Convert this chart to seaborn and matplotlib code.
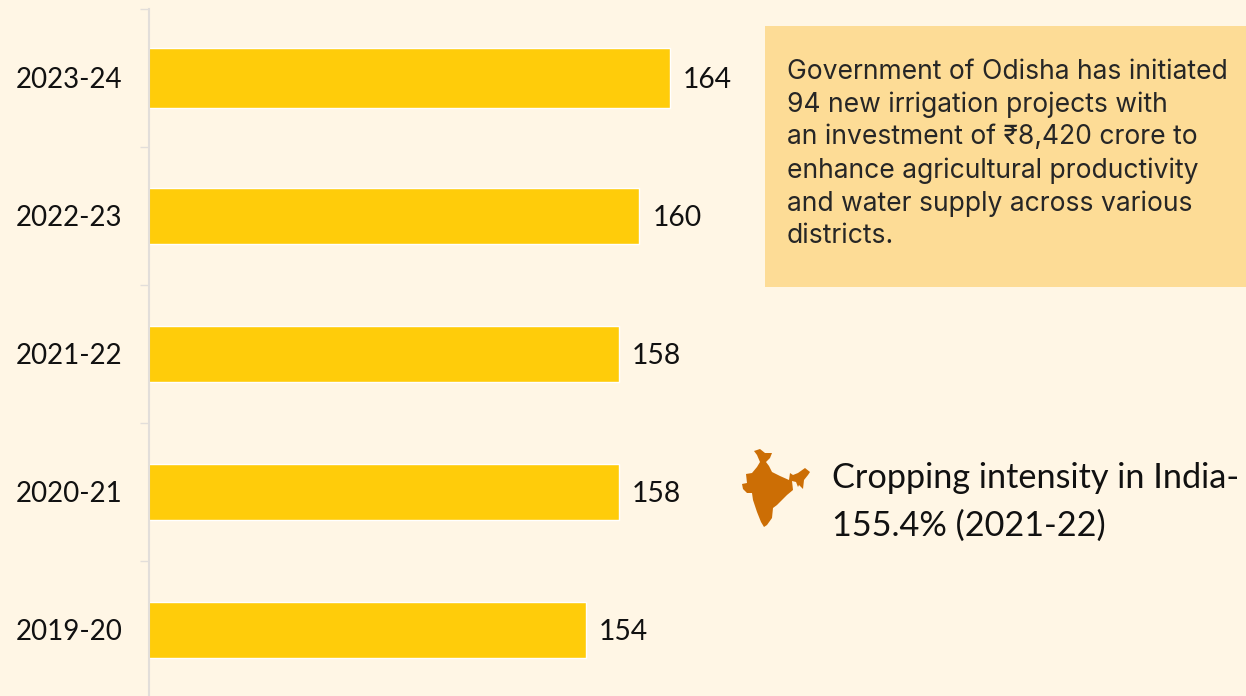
# cropping intensity chart, Odisha
import numpy as np
import pandas as pd
import matplotlib.pyplot as plt
from matplotlib.patches import Polygon, Rectangle
import seaborn as sns

years = ["2023-24", "2022-23", "2021-22", "2020-21", "2019-20"]
intensity = [164, 160.4, 157.9, 157.9, 154]

note = ("Government of Odisha has initiated\n94 new irrigation projects with\n"
        "an investment of ₹8,420 crore to\nenhance agricultural productivity\n"
        "and water supply across various\ndistricts.")
india_note = "Cropping intensity in India-\n155.4% (2021-22)"

# rough outline of the map icon, in pixels of the picture
india_x = [754, 760, 765, 772, 770, 766, 769, 772, 780, 789, 790, 793, 798, 805, 810, 808, 804, 803,
           799, 798, 796, 792, 793, 787, 777, 773, 772, 767, 764, 761, 757, 753, 752, 747, 743, 742,
           747, 746, 752, 757, 760, 757]
india_y = [451, 449, 453, 453, 458, 462, 466, 472, 476, 480, 473, 475, 473, 468, 472, 475, 480, 489,
           485, 487, 482, 481, 490, 495, 505, 508, 518, 525, 527, 522, 512, 500, 493, 493, 489, 484,
           483, 474, 473, 467, 462, 455]

BG = "#FFF6E5"
W, H = 1246, 696

sns.set_style("white")
plt.rcParams["font.family"] = ["Lato", "DejaVu Sans"]

fig = plt.figure(figsize=(W / 100, H / 100), dpi=100, facecolor=BG)
ax = fig.add_axes([149 / W, (H - 699) / H, (W - 149) / W, 690 / H])
ax.patch.set_alpha(0)

df = pd.DataFrame({"year": years, "intensity": intensity})
sns.barplot(data=df, y="year", x="intensity", orient="h", color="#FFCC0A", saturation=1, width=0.405, ax=ax)
ax.patches[0].set_y(-0.22)
ax.patches[0].set_height(0.44)

ax.set_xlim(101.7, 233)
ax.set_xlabel("")
ax.set_ylabel("")
ax.set_xticks([])

sns.despine(ax=ax, left=False, right=True, top=True, bottom=True)
ax.spines["left"].set_color("#E2DEDA")
ax.spines["left"].set_linewidth(1.5)
ax.spines["left"].set_clip_on(False)

# ticks sit between the categories
ax.set_yticks(np.arange(-0.5, 5), minor=True)
ax.tick_params(axis="y", which="minor", length=6.5, width=1, color="#E2DEDA", left=True)
ax.tick_params(axis="y", which="major", length=0, pad=95.8, labelsize=20, labelcolor="#111111")
for lab in ax.get_yticklabels():
    lab.set_ha("left")

for c in ax.containers:
    for t in ax.bar_label(c, fmt="%.0f", padding=9.5, fontsize=20.3, color="#111111"):
        t.xyann = (9.5, -1.5)

fig.add_artist(Rectangle((765 / W, 1 - 287 / H), (W - 765) / W, 261 / H, transform=fig.transFigure,
                         facecolor="#FDDC96", edgecolor="none"))
fig.text(787 / W, 1 - 154 / H, note, family=["Inter", "DejaVu Sans"], fontsize=19.05, color="#262626",
         va="center", ha="left", linespacing=1.32)

pts = np.column_stack([np.array(india_x) / W, 1 - np.array(india_y) / H])
fig.add_artist(Polygon(pts, closed=True, transform=fig.transFigure, facecolor="#CC6E05", edgecolor="none"))

fig.text(832 / W, 1 - 502 / H, india_note, fontsize=24.7, color="#111111", va="center", ha="left", linespacing=1.587)

fig.savefig("out.png", dpi=100, facecolor=BG)
